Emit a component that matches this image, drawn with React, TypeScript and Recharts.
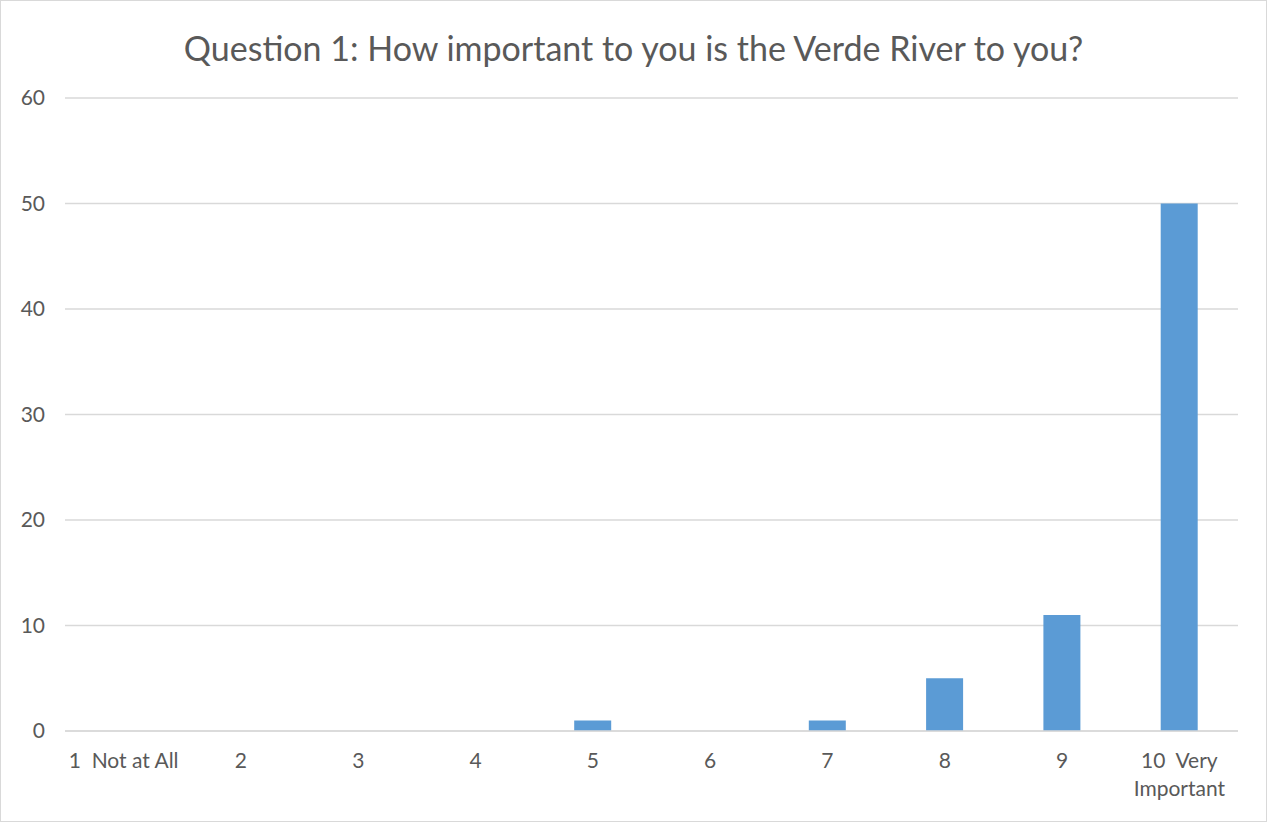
import React from 'react';
import { BarChart, Bar, XAxis, YAxis, CartesianGrid } from 'recharts';

// survey answers, 1 (not at all) to 10 (very important)
const categories = ['1  Not at All', '2', '3', '4', '5', '6', '7', '8', '9', '10  Very\nImportant'];
const responses = [0, 0, 0, 0, 1, 0, 1, 5, 11, 50];
const yTicks = [0, 10, 20, 30, 40, 50, 60];

const title = 'Question 1: How important to you is the Verde River to you?';

const data = categories.map((label, i) => ({ label, count: responses[i] }));

const FONT = 'Lato, "Open Sans", sans-serif';
const TEXT = '#595959';

const CategoryTick = (props: any) => {
  const { x, y, payload } = props;
  const lines = String(payload.value).split('\n');
  return (
    <g transform={`translate(${x},${y})`}>
      {lines.map((line, i) => (
        <text
          key={i}
          x={0}
          y={37 + i * 28}
          textAnchor='middle'
          fill={TEXT}
          fontSize={21}
          fontFamily={FONT}
          style={{ whiteSpace: 'pre' }}
        >
          {line}
        </text>
      ))}
    </g>
  );
};

export default function App() {
  return (
    <div style={{ position: 'absolute', left: 0, top: 0, width: 1267, height: 822, background: '#fff' }}>
      <div
        style={{
          position: 'absolute',
          top: 28,
          left: 0,
          width: 1267,
          textAlign: 'center',
          fontFamily: FONT,
          fontSize: 34,
          color: TEXT,
          lineHeight: '40px',
        }}
      >
        {title}
      </div>
      <BarChart
        width={1267}
        height={822}
        data={data}
        margin={{ top: 98, right: 29, bottom: 0, left: 0 }}
      >
        <CartesianGrid vertical={false} stroke='#d9d9d9' strokeWidth={1.5} />
        <XAxis
          dataKey='label'
          axisLine={{ stroke: '#d9d9d9', strokeWidth: 1.5 }}
          tickLine={false}
          tickSize={0}
          tickMargin={0}
          height={91}
          interval={0}
          tick={<CategoryTick />}
        />
        <YAxis
          domain={[0, 60]}
          ticks={yTicks}
          axisLine={false}
          tickLine={false}
          tickSize={0}
          tickMargin={20}
          width={65}
          tick={{ fill: TEXT, fontSize: 21, fontFamily: FONT }}
        />
        <Bar dataKey='count' fill='#5b9bd5' barSize={37} isAnimationActive={false} />
      </BarChart>
      <div
        style={{
          position: 'absolute',
          inset: 0,
          border: '1px solid #d9d9d9',
          pointerEvents: 'none',
        }}
      />
    </div>
  );
}
